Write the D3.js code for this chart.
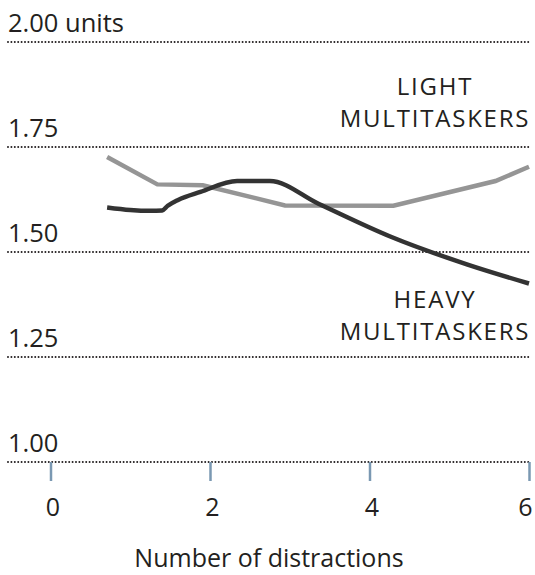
<!DOCTYPE html>
<html>
<head>
<meta charset="utf-8">
<script src="https://cdn.jsdelivr.net/npm/d3@7"></script>
<style>
  body { margin: 0; background: #fff; }
  text { font-family: "Open Sans", Roboto, sans-serif; fill: #231f20; }
</style>
</head>
<body>
<div id="main"></div>
<script>
// data
var lightX = [0.71, 1.34, 1.91, 2.94, 4.30, 5.58, 6.0];
var lightY = [1.726, 1.661, 1.659, 1.611, 1.610, 1.669, 1.703];

var heavyX = [0.71, 1.0, 1.25, 1.40, 1.47, 1.60, 1.88, 2.34, 2.75, 3.36, 4.26, 5.23, 6.0];
var heavyY = [1.606, 1.600, 1.598, 1.599, 1.610, 1.624, 1.643, 1.669, 1.669, 1.615, 1.537, 1.470, 1.425];

var yTicks = [1.00, 1.25, 1.50, 1.75, 2.00];
var yTickLabels = ['1.00', '1.25', '1.50', '1.75', '2.00 units'];
var xTicks = [0, 2, 4, 6];

// layout
var svgWidth = 535;
var svgHeight = 575;
var gridLeft = 8;
var gridRight = 531;

var svg = d3.select('#main')
  .append('svg')
  .attr('width', svgWidth)
  .attr('height', svgHeight);

var xScale = d3.scaleLinear()
  .domain([0, 6])
  .range([50.5, 529]);

var yScale = d3.scaleLinear()
  .domain([1, 2])
  .range([462, 42]);

// dotted gridlines + labels
var grid = svg.append('g').attr('class', 'grid');

grid.selectAll('line')
  .data(yTicks)
  .enter()
  .append('line')
  .attr('x1', gridLeft)
  .attr('x2', gridRight)
  .attr('y1', (d) => yScale(d))
  .attr('y2', (d) => yScale(d))
  .attr('stroke', '#231f20')
  .attr('stroke-width', 2)
  .attr('stroke-linecap', 'round')
  .attr('stroke-dasharray', '0,3.4');

grid.selectAll('text')
  .data(yTicks)
  .enter()
  .append('text')
  .attr('x', gridLeft)
  .attr('y', (d) => yScale(d) - 10)
  .style('font-size', '25.5px')
  .text((d, i) => yTickLabels[i]);

// x axis ticks
var xAxis = d3.axisBottom(xScale)
  .tickValues(xTicks)
  .tickSize(19)
  .tickPadding(17)
  .tickFormat(d3.format('d'));

var xAxisG = svg.append('g')
  .attr('transform', 'translate(0,' + yScale(1) + ')')
  .call(xAxis);

xAxisG.select('.domain').remove();
xAxisG.selectAll('.tick line')
  .attr('stroke', '#7a98b2')
  .attr('stroke-width', 2.5);
xAxisG.selectAll('.tick text')
  .style('font-size', '25px')
  .style('font-family', '"Open Sans", sans-serif')
  .attr('fill', '#231f20')
  // last label sits a little inside the edge, as in the original
  .attr('dx', (d) => d === 6 ? -4 : 2);

svg.append('text')
  .attr('x', 269)
  .attr('y', 567)
  .attr('text-anchor', 'middle')
  .style('font-size', '25px')
  .text('Number of distractions');

// series lines
var lightData = lightX.map((x, i) => [x, lightY[i]]);
var heavyData = heavyX.map((x, i) => [x, heavyY[i]]);

var lightLine = d3.line()
  .x((d) => xScale(d[0]))
  .y((d) => yScale(d[1]));

var heavyLine = d3.line()
  .x((d) => xScale(d[0]))
  .y((d) => yScale(d[1]))
  .curve(d3.curveMonotoneX);

svg.append('path')
  .attr('d', lightLine(lightData))
  .attr('fill', 'none')
  .attr('stroke', '#959595')
  .attr('stroke-width', 4.5);

svg.append('path')
  .attr('d', heavyLine(heavyData))
  .attr('fill', 'none')
  .attr('stroke', '#333333')
  .attr('stroke-width', 4.5);

// series labels
function addLabel(lines, cx, y0) {
  lines.forEach((t, i) => {
    svg.append('text')
      .attr('x', cx)
      .attr('y', y0 + i * 32)
      .attr('text-anchor', 'middle')
      .style('font-size', '24px')
      .style('letter-spacing', '1.8px')
      .text(t);
  });
}

addLabel(['LIGHT', 'MULTITASKERS'], 435, 95);
addLabel(['HEAVY', 'MULTITASKERS'], 435, 308);
</script>
</body>
</html>
